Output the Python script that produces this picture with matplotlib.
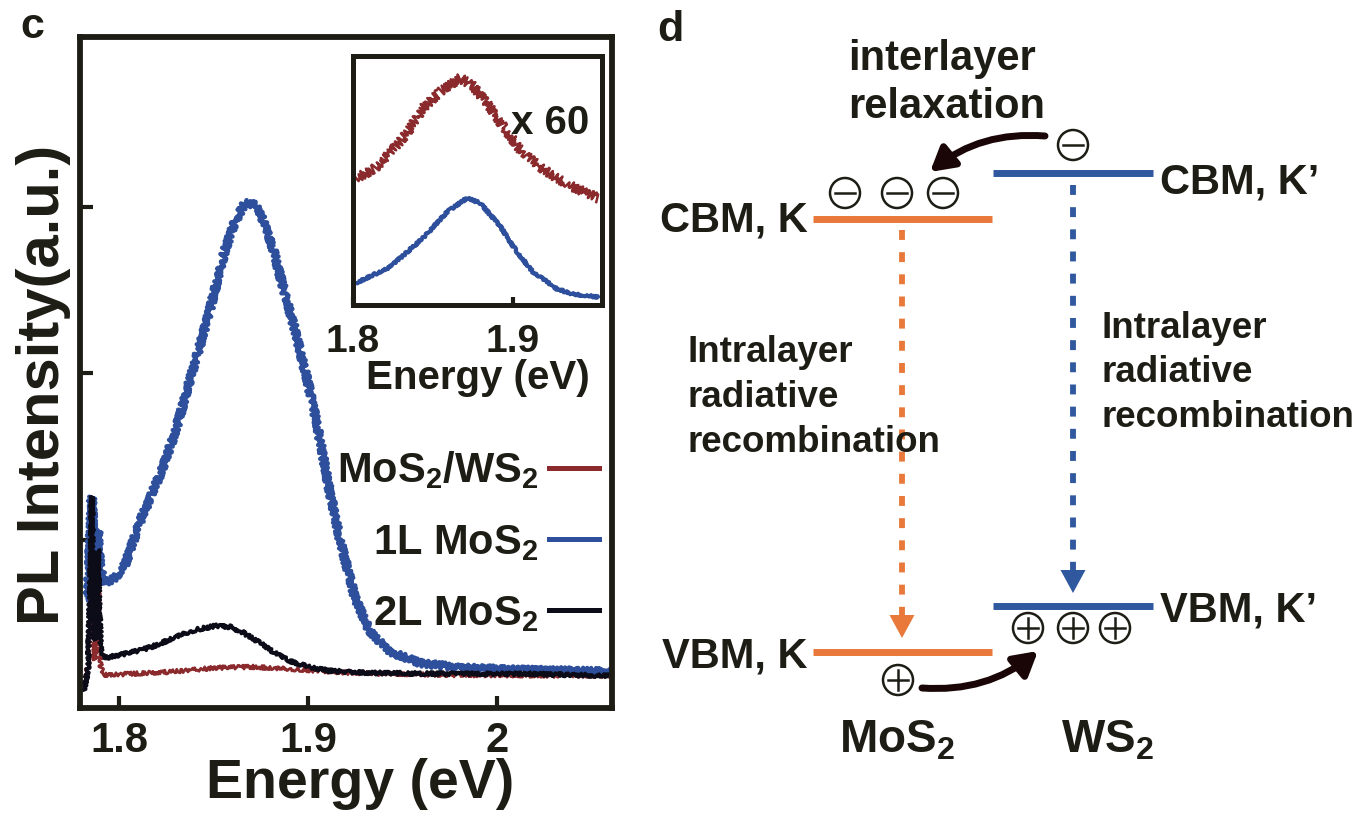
import matplotlib
matplotlib.use("Agg")
import matplotlib.pyplot as plt
from matplotlib.lines import Line2D
from matplotlib.patches import Circle, Polygon, FancyArrowPatch

INK = "#1d1d15"
plt.rcParams.update({
    "font.family": ["Liberation Sans", "DejaVu Sans"],
    "font.weight": "bold",
    "mathtext.fontset": "custom",
    "mathtext.rm": "Liberation Sans:bold",
    "mathtext.it": "Liberation Sans:bold",
    "mathtext.bf": "Liberation Sans:bold",
    "mathtext.default": "rm",
    "text.color": INK,
    "axes.edgecolor": INK,
    "xtick.color": INK,
    "ytick.color": INK,
    "axes.labelcolor": INK,
    "axes.labelweight": "bold",
})

# ---------------- PL spectra (energy in eV, intensity in a.u.) ----------------
hetero_E = [1.78148, 1.78413, 1.78519, 1.78571, 1.78624, 1.78730, 1.78836, 1.78889,
            1.78942, 1.79048, 1.79206, 1.80582, 1.82698, 1.85079, 1.86931, 1.89048,
            1.92222, 1.97513, 2.06085]
hetero_I = [0.099, 0.279, 0.640, 0.880, 0.580, 0.279, 0.520, 0.850,
            0.520, 0.231, 0.189, 0.195, 0.207, 0.231, 0.237, 0.225,
            0.201, 0.189, 0.183]

mono_E = [1.78360, 1.78519, 1.78571, 1.78677, 1.78783, 1.78889, 1.78995, 1.79259,
          1.79788, 1.80317, 1.81217, 1.82169, 1.82963, 1.83757, 1.84709, 1.85608,
          1.86138, 1.86667, 1.87196, 1.87566, 1.88095, 1.88624, 1.89312, 1.90000,
          1.90529, 1.91058, 1.91693, 1.92487, 1.93280, 1.94339, 1.95926, 1.98042,
          2.01217, 2.03862, 2.06085]
mono_I = [0.640, 1.120, 1.258, 0.880, 0.790, 1.060, 0.832, 0.742,
          0.772, 0.850, 1.138, 1.390, 1.643, 1.961, 2.339, 2.742,
          2.910, 3.024, 3.012, 2.940, 2.772, 2.544, 2.261, 1.943,
          1.661, 1.342, 1.000, 0.652, 0.447, 0.327, 0.261, 0.231,
          0.219, 0.213, 0.207]

bi_E = [1.78148, 1.78360, 1.78519, 1.78571, 1.78624, 1.78730, 1.78836, 1.78889,
        1.78942, 1.79048, 1.79259, 1.80053, 1.81217, 1.82169, 1.82963, 1.84021,
        1.85079, 1.85873, 1.86508, 1.87460, 1.88254, 1.89048, 1.90000, 1.91164,
        1.93280, 1.97513, 2.01746, 2.06085]
bi_I = [0.099, 0.219, 0.880, 1.258, 0.880, 0.399, 0.640, 0.940,
        0.640, 0.339, 0.291, 0.309, 0.339, 0.375, 0.417, 0.459,
        0.483, 0.477, 0.447, 0.381, 0.321, 0.273, 0.237, 0.213,
        0.201, 0.195, 0.195, 0.183]

# inset: heterostructure magnified x60 together with monolayer
inset_hetero_E = [1.80188, 1.81250, 1.82313, 1.83375, 1.84375, 1.85438, 1.86688, 1.87500,
                  1.88563, 1.89625, 1.90625, 1.91688, 1.92750, 1.93750, 1.95313]
inset_hetero_I = [1.27, 1.35, 1.52, 1.72, 1.97, 2.13, 2.27, 2.19,
                  1.98, 1.73, 1.52, 1.38, 1.27, 1.18, 1.07]
inset_mono_E = [1.80188, 1.82313, 1.84375, 1.85875, 1.87125, 1.87938, 1.89188, 1.90250,
                1.91250, 1.92750, 1.93750, 1.95313]
inset_mono_I = [0.22, 0.38, 0.67, 0.93, 1.07, 1.02, 0.79, 0.53,
                0.33, 0.16, 0.11, 0.08]

series_labels = ["MoS$_2$/WS$_2$", "1L MoS$_2$", "2L MoS$_2$"]
x_ticks = [1.8, 1.9, 2.0]
x_ticklabels = ["1.8", "1.9", "2"]
inset_ticks = [1.8, 1.9]
inset_ticklabels = ["1.8", "1.9"]

# ---------------- band-alignment schematic (diagram units, y up) ----------------
level_names = ["CBM, K", "CBM, K\u2019", "VBM, K", "VBM, K\u2019"]
level_energy = [595, 641, 162, 208]
layer_names = ["MoS$_2$", "WS$_2$"]

RED = "#8b2a2d"
BLUE = "#2e4f9c"
BLACK = "#0c0c18"
ORANGE = "#e8793a"
DBLUE = "#2f589e"
ARROW = "#1a0606"

W, H = 1361, 814
fig = plt.figure(figsize=(W / 100, H / 100), dpi=100)


def rect(x0, y0, x1, y1):
    return [x0 / W, 1 - y1 / H, (x1 - x0) / W, (y1 - y0) / H]


# ---------------- panel c ----------------
ax = fig.add_axes(rect(80, 37, 612, 708))
noise = [(RED, 2.0, 2.0), (BLUE, 3.2, 3.4), (BLACK, 2.6, 1.8)]
for (E, I), (col, lw, amp) in zip([(hetero_E, hetero_I), (mono_E, mono_I), (bi_E, bi_I)], noise):
    ln, = ax.plot(E, I, color=col, lw=lw, solid_joinstyle="round")
    ln.set_sketch_params(scale=amp, length=2.0, randomness=3.0)

ax.set_xlim(1.7794, 2.0608)
ax.set_ylim(-0.01, 4.02)
ax.set_xticks(x_ticks)
ax.set_xticklabels(x_ticklabels)
ax.set_yticks([1, 2, 3])
ax.set_yticklabels([])
ax.tick_params(direction="in", length=9, width=3, labelsize=30, pad=9)
for s in ax.spines.values():
    s.set_linewidth(4.2)
ax.set_xlabel("Energy (eV)", fontsize=40)
ax.xaxis.set_label_coords(0.526, -0.074, transform=ax.transAxes)
ax.xaxis.label.set_va("top")
ax.set_ylabel("PL Intensity(a.u.)", fontsize=43)
ax.yaxis.set_label_coords(-0.017, 0.481, transform=ax.transAxes)
ax.yaxis.label.set_va("bottom")

handles = [Line2D([], [], color=c, lw=3.6) for c in (RED, BLUE, BLACK)]
ax.legend(handles, series_labels, loc="upper right", bbox_to_anchor=(0.975, 0.385),
          frameon=False, markerfirst=False, fontsize=30, handlelength=1.2,
          handletextpad=0.25, labelspacing=0.75, borderpad=0, borderaxespad=0)

fig.text(20 / W, 1 - 38 / H, "c", fontsize=31, va="baseline")

# inset
axin = fig.add_axes(rect(353, 56, 602, 305))
axin.set_facecolor("white")
l1, = axin.plot(inset_hetero_E, inset_hetero_I, color=RED, lw=1.8)
l1.set_sketch_params(scale=4.5, length=2.0, randomness=3.0)
l2, = axin.plot(inset_mono_E, inset_mono_I, color=BLUE, lw=2.8)
l2.set_sketch_params(scale=1.2, length=2.0, randomness=3.0)
axin.set_xlim(1.8, 1.9556)
axin.set_ylim(0, 2.49)
axin.set_xticks(inset_ticks)
axin.set_xticklabels(inset_ticklabels)
axin.set_yticks([])
axin.tick_params(direction="in", length=6, width=3, labelsize=28, pad=14)
for s in axin.spines.values():
    s.set_linewidth(3.6)
axin.set_xlabel("Energy (eV)", fontsize=29, labelpad=-1)
axin.text(0.79, 0.73, "x 60", transform=axin.transAxes, fontsize=29,
          ha="center", va="center")

# ---------------- panel d ----------------
axd = fig.add_axes(rect(640, 0, 1361, 814))
axd.set_xlim(640, 1361)
axd.set_ylim(0, 814)
axd.axis("off")

mo_x = (813, 992)
ws_x = (993, 1153)
cbm_k, cbm_kp, vbm_k, vbm_kp = level_energy
axd.plot(mo_x, [cbm_k, cbm_k], color=ORANGE, lw=5, solid_capstyle="butt")
axd.plot(ws_x, [cbm_kp, cbm_kp], color=DBLUE, lw=5, solid_capstyle="butt")
axd.plot(mo_x, [vbm_k, vbm_k], color=ORANGE, lw=5, solid_capstyle="butt")
axd.plot(ws_x, [vbm_kp, vbm_kp], color=DBLUE, lw=5, solid_capstyle="butt")

lab_fs = 30
axd.text(808, cbm_k - 13, level_names[0], fontsize=lab_fs, ha="right", va="baseline")
axd.text(1160, cbm_kp - 21, level_names[1], fontsize=lab_fs, ha="left", va="baseline")
axd.text(807, vbm_k - 16, level_names[2], fontsize=lab_fs, ha="right", va="baseline")
axd.text(1160, vbm_kp - 16, level_names[3], fontsize=lab_fs, ha="left", va="baseline")


def dashed_drop(x, y_top, y_tip, color):
    head_l, head_w = 23, 25
    axd.plot([x, x], [y_top, y_tip + head_l], color=color, lw=4.2,
             linestyle=(0, (1.7, 2.1)), solid_capstyle="butt", dash_capstyle="butt")
    axd.add_patch(Polygon([(x - head_w / 2, y_tip + head_l), (x + head_w / 2, y_tip + head_l),
                           (x, y_tip)], closed=True, color=color, lw=0))


dashed_drop(902, cbm_k - 11, vbm_k + 14, ORANGE)
dashed_drop(1073, cbm_kp - 12, vbm_kp + 13, DBLUE)

rec_fs = 26.5
for i, t in enumerate(["Intralayer", "radiative", "recombination"]):
    axd.text(688, 452 - 45 * i, t, fontsize=rec_fs, ha="left", va="baseline")
    axd.text(1102, 476 - 44.5 * i, t, fontsize=rec_fs, ha="left", va="baseline")

axd.text(848, 744, "interlayer", fontsize=30, ha="left", va="baseline")
axd.text(848, 696, "relaxation", fontsize=30, ha="left", va="baseline")
axd.text(657, 773, "d", fontsize=31, ha="left", va="baseline")


def carrier(x, y, sign):
    axd.add_patch(Circle((x, y), 15, fill=False, ec=INK, lw=1.8))
    axd.plot([x - 10, x + 10], [y, y], color=INK, lw=1.8)
    if sign > 0:
        axd.plot([x, x], [y - 10, y + 10], color=INK, lw=1.8)


for cx in (845, 897, 943):
    carrier(cx, cbm_k + 26, -1)
carrier(1073, cbm_kp + 28, -1)
carrier(898, vbm_k - 28, +1)
for cx in (1028, 1073, 1115):
    carrier(cx, vbm_kp - 22, +1)

axd.add_patch(FancyArrowPatch((1045, 678), (930, 642), connectionstyle="arc3,rad=0.2",
                              arrowstyle="-|>,head_length=14,head_width=8",
                              mutation_scale=1, lw=5, color=ARROW, shrinkA=0, shrinkB=0))
axd.add_patch(FancyArrowPatch((922, 126), (1038, 163), connectionstyle="arc3,rad=0.2",
                              arrowstyle="-|>,head_length=14,head_width=8",
                              mutation_scale=1, lw=5, color=ARROW, shrinkA=0, shrinkB=0))

axd.text(897, 62, layer_names[0], fontsize=33, ha="center", va="baseline")
axd.text(1107, 62, layer_names[1], fontsize=33, ha="center", va="baseline")

fig.savefig("out.png", dpi=100)
